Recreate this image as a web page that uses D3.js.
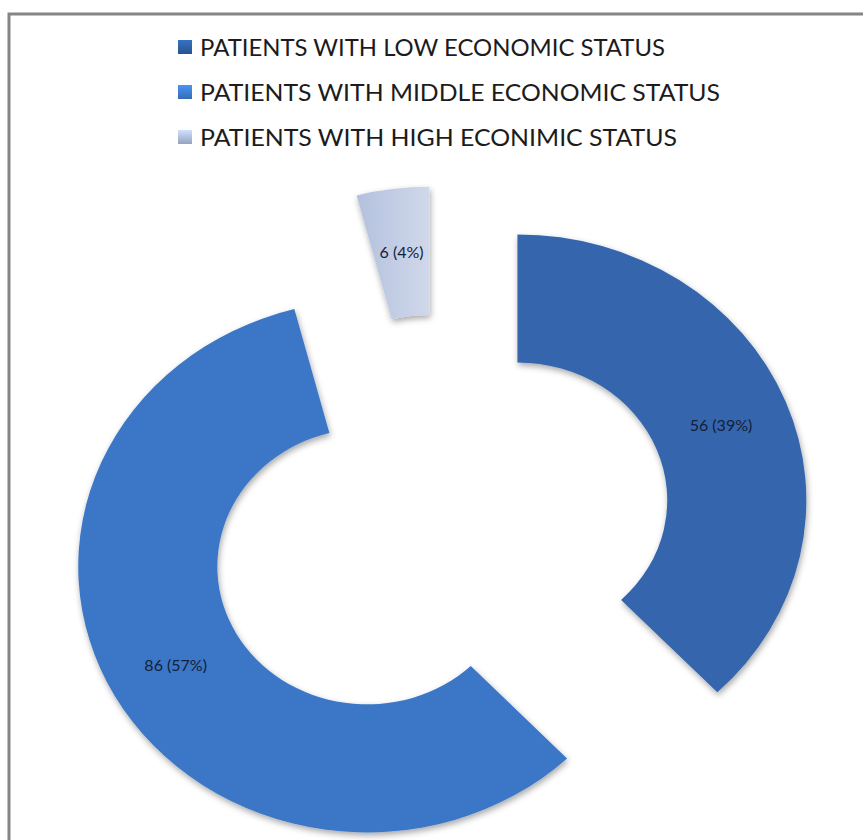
<!DOCTYPE html>
<html>
<head>
<meta charset="utf-8">
<script src="https://cdn.jsdelivr.net/npm/d3@7"></script>
<style>
  html, body { margin: 0; padding: 0; background: #fff; }
  svg { display: block; }
</style>
</head>
<body>
<svg id="chart" width="863" height="840"></svg>
<script>
// Patients by economic status
const categories = [
  "PATIENTS WITH LOW ECONOMIC STATUS",
  "PATIENTS WITH MIDDLE ECONOMIC STATUS",
  "PATIENTS WITH HIGH ECONIMIC STATUS"
];
const patients = [56, 86, 6];
const sliceLabels = ["56 (39%)", "86 (57%)", "6 (4%)"];
const sliceColors = ["#3465ac", "#3b77c6", "#bcc8e2"];
const legendColors = ["#2d5c9e", "#3a78c8", "#a7b5d3"];

const svg = d3.select("#chart");
const W = 863, H = 840;

// chart frame
svg.append("rect")
  .attr("x", 9).attr("y", 14).attr("width", W + 20).attr("height", H + 20)
  .attr("fill", "#fff").attr("stroke", "#858585").attr("stroke-width", 3);

const defs = svg.append("defs");
const shadow = defs.append("filter").attr("id", "shadow")
  .attr("x", "-20%").attr("y", "-20%").attr("width", "140%").attr("height", "140%");
shadow.append("feDropShadow")
  .attr("dx", 1).attr("dy", 3).attr("stdDeviation", 3)
  .attr("flood-color", "#000").attr("flood-opacity", 0.35);

// legend swatch gradients
legendColors.forEach((c, i) => {
  const g = defs.append("linearGradient").attr("id", "lg" + i)
    .attr("x1", 0).attr("y1", 0).attr("x2", 0).attr("y2", 1);
  g.append("stop").attr("offset", "0%").attr("stop-color", d3.color(c).brighter(0.6));
  g.append("stop").attr("offset", "100%").attr("stop-color", d3.color(c).darker(0.3));
});
// light slice gradient
const hg = defs.append("linearGradient").attr("id", "hiGrad")
  .attr("x1", 0).attr("y1", 0).attr("x2", 1).attr("y2", 0);
hg.append("stop").attr("offset", "0%").attr("stop-color", "#b3c1de");
hg.append("stop").attr("offset", "100%").attr("stop-color", "#d0d8ea");

// legend
const legend = svg.append("g").attr("transform", "translate(178,0)");
const legendY = [47, 92, 137];
const legendWidths = [465, 520, 477];
categories.forEach((name, i) => {
  legend.append("rect")
    .attr("x", 0).attr("y", legendY[i] - 7).attr("width", 14).attr("height", 14)
    .attr("fill", `url(#lg${i})`);
  legend.append("text")
    .attr("x", 22).attr("y", legendY[i])
    .attr("dy", "0.36em")
    .attr("font-family", "Lato, 'Open Sans', sans-serif")
    .attr("font-size", 24)
    .attr("fill", "#1c1c1c")
    .attr("textLength", legendWidths[i])
    .attr("lengthAdjust", "spacingAndGlyphs")
    .text(name);
});

// exploded doughnut
const cx = 440, cy = 529;
const sx = 1.07, sy = 0.985;   // stretch of the plot area
const outerR = 270, innerR = 140, explode = 78;

const pie = d3.pie().sort(null).value(d => d);
const arcs = pie(patients);
const arc = d3.arc().innerRadius(innerR).outerRadius(outerR);

const plot = svg.append("g").attr("transform", `translate(${cx},${cy})`);

function offset(d, dist) {
  const a = (d.startAngle + d.endAngle) / 2;
  return [Math.sin(a) * dist * sx, -Math.cos(a) * dist * sy];
}

plot.selectAll("path.slice")
  .data(arcs)
  .join("path")
  .attr("class", "slice")
  .attr("transform", d => {
    const [ox, oy] = offset(d, explode);
    return `translate(${ox},${oy}) scale(${sx},${sy})`;
  })
  .attr("d", arc)
  .attr("fill", (d, i) => i === 2 ? "url(#hiGrad)" : sliceColors[i])
  .attr("filter", "url(#shadow)");

// value labels at the slice centroids
plot.selectAll("text.value")
  .data(arcs)
  .join("text")
  .attr("class", "value")
  .attr("transform", d => {
    const [ox, oy] = offset(d, explode);
    const [px, py] = arc.centroid(d);
    return `translate(${ox + px * sx},${oy + py * sy})`;
  })
  .attr("text-anchor", "middle")
  .attr("dy", "0.35em")
  .attr("font-family", "Lato, 'Open Sans', sans-serif")
  .attr("font-size", 16)
  .attr("fill", "#14203a")
  .text((d, i) => sliceLabels[i]);
</script>
</body>
</html>
